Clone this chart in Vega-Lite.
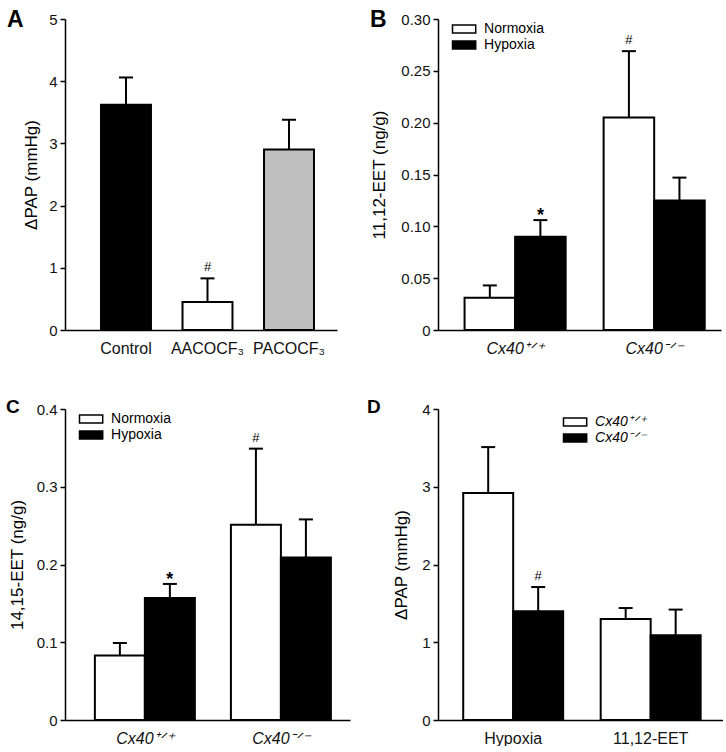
{
  "$schema": "https://vega.github.io/schema/vega-lite/v6.json",
  "padding": {"left": 6, "top": 9, "right": 0, "bottom": 0},
  "columns": 2,
  "bounds": "flush",
  "spacing": {"row": 79, "column": 88},
  "resolve": {"scale": {"fill": "independent", "xOffset": "independent"}, "legend": {"fill": "independent"}},
  "datasets": {
    "a": [
      {"x": "Control", "value": 3.62, "upper": 4.06, "sig": ""},
      {"x": "AACOCF₃", "value": 0.45, "upper": 0.83, "sig": "#"},
      {"x": "PACOCF₃", "value": 2.9, "upper": 3.38, "sig": ""}
    ],
    "b": [
      {"x": "Cx40⁺ᐟ⁺", "sub": "Normoxia", "value": 0.031, "upper": 0.043, "sig": ""},
      {"x": "Cx40⁺ᐟ⁺", "sub": "Hypoxia", "value": 0.09, "upper": 0.106, "sig": "*"},
      {"x": "Cx40⁻ᐟ⁻", "sub": "Normoxia", "value": 0.205, "upper": 0.269, "sig": "#"},
      {"x": "Cx40⁻ᐟ⁻", "sub": "Hypoxia", "value": 0.125, "upper": 0.147, "sig": ""}
    ],
    "c": [
      {"x": "Cx40⁺ᐟ⁺", "sub": "Normoxia", "value": 0.083, "upper": 0.099, "sig": ""},
      {"x": "Cx40⁺ᐟ⁺", "sub": "Hypoxia", "value": 0.157, "upper": 0.175, "sig": "*"},
      {"x": "Cx40⁻ᐟ⁻", "sub": "Normoxia", "value": 0.251, "upper": 0.349, "sig": "#"},
      {"x": "Cx40⁻ᐟ⁻", "sub": "Hypoxia", "value": 0.209, "upper": 0.258, "sig": ""}
    ],
    "d": [
      {"x": "Hypoxia", "sub": "Cx40⁺ᐟ⁺", "value": 2.92, "upper": 3.51, "sig": ""},
      {"x": "Hypoxia", "sub": "Cx40⁻ᐟ⁻", "value": 1.4, "upper": 1.71, "sig": "#"},
      {"x": "11,12-EET", "sub": "Cx40⁺ᐟ⁺", "value": 1.3, "upper": 1.44, "sig": ""},
      {"x": "11,12-EET", "sub": "Cx40⁻ᐟ⁻", "value": 1.09, "upper": 1.42, "sig": ""}
    ]
  },
  "concat": [
    {
      "width": 272, "height": 311,
      "title": {"text": "A", "fontSize": 23, "offset": -20, "dx": -58},
      "data": {"name": "a"},
      "encoding": {
        "x": {"field": "x", "type": "nominal", "sort": null, "title": null,
              "scale": {"paddingInner": 0.387, "paddingOuter": 0.362, "align": 0.61}}
      },
      "layer": [
        {"mark": {"type": "rule", "color": "black", "strokeWidth": 2},
         "encoding": {"y": {"field": "value", "type": "quantitative"}, "y2": {"field": "upper"}}},
        {"mark": {"type": "tick", "color": "black", "opacity": 1, "size": 14, "thickness": 2},
         "encoding": {"y": {"field": "upper", "type": "quantitative"}}},
        {"mark": {"type": "bar", "stroke": "black", "strokeWidth": 2, "opacity": 1},
         "encoding": {
           "y": {"field": "value", "type": "quantitative",
                 "scale": {"domain": [0, 5], "nice": false},
                 "axis": {"title": "ΔPAP (mmHg)", "values": [0, 1, 2, 3, 4, 5], "format": "d", "titlePadding": 8.5}},
           "fill": {"field": "x", "type": "nominal",
                    "scale": {"domain": ["Control", "AACOCF₃", "PACOCF₃"], "range": ["black", "white", "#bfbfbf"]},
                    "legend": null}
         }},
        {"transform": [{"filter": "datum.sig === '#'"}],
         "mark": {"type": "text", "fontSize": 13, "dy": -11, "color": "black"},
         "encoding": {"y": {"field": "upper", "type": "quantitative"}, "text": {"field": "sig"}}}
      ]
    },
    {
      "width": 283, "height": 311,
      "title": {"text": "B", "fontSize": 23, "offset": -20, "dx": -68},
      "data": {"name": "b"},
      "encoding": {
        "x": {"field": "x", "type": "nominal", "sort": null, "title": null,
              "scale": {"paddingInner": 0.273, "paddingOuter": 0.154, "align": 0.62},
              "axis": {"labelFontStyle": "italic"}},
        "xOffset": {"field": "sub", "type": "nominal", "sort": ["Normoxia", "Hypoxia"],
                    "scale": {"paddingInner": 0, "paddingOuter": 0}}
      },
      "layer": [
        {"mark": {"type": "rule", "color": "black", "strokeWidth": 2},
         "encoding": {"y": {"field": "value", "type": "quantitative"}, "y2": {"field": "upper"}}},
        {"mark": {"type": "tick", "color": "black", "opacity": 1, "size": 14, "thickness": 2},
         "encoding": {"y": {"field": "upper", "type": "quantitative"}}},
        {"mark": {"type": "bar", "stroke": "black", "strokeWidth": 2, "opacity": 1},
         "encoding": {
           "y": {"field": "value", "type": "quantitative",
                 "scale": {"domain": [0, 0.3], "nice": false},
                 "axis": {"title": "11,12-EET (ng/g)", "values": [0, 0.05, 0.1, 0.15, 0.2, 0.25, 0.3],
                          "labelExpr": "datum.value === 0 ? '0' : format(datum.value, '.2f')", "titlePadding": 12}},
           "fill": {"field": "sub", "type": "nominal",
                    "scale": {"domain": ["Normoxia", "Hypoxia"], "range": ["white", "black"]},
                    "legend": {"legendX": 14, "legendY": 3}}
         }},
        {"transform": [{"filter": "datum.sig === '#'"}],
         "mark": {"type": "text", "fontSize": 13, "dy": -11, "color": "black"},
         "encoding": {"y": {"field": "upper", "type": "quantitative"}, "text": {"field": "sig"}}},
        {"transform": [{"filter": "datum.sig === '*'"}],
         "mark": {"type": "text", "fontSize": 18, "fontWeight": "bold", "dy": -4, "color": "black"},
         "encoding": {"y": {"field": "upper", "type": "quantitative"}, "text": {"field": "sig"}}}
      ]
    },
    {
      "width": 285, "height": 311,
      "title": {"text": "C", "fontSize": 19, "offset": -15, "dx": -59},
      "data": {"name": "c"},
      "encoding": {
        "x": {"field": "x", "type": "nominal", "sort": null, "title": null,
              "scale": {"paddingInner": 0.265, "paddingOuter": 0.18, "align": 0.61},
              "axis": {"labelFontStyle": "italic"}},
        "xOffset": {"field": "sub", "type": "nominal", "sort": ["Normoxia", "Hypoxia"],
                    "scale": {"paddingInner": 0, "paddingOuter": 0}}
      },
      "layer": [
        {"mark": {"type": "rule", "color": "black", "strokeWidth": 2},
         "encoding": {"y": {"field": "value", "type": "quantitative"}, "y2": {"field": "upper"}}},
        {"mark": {"type": "tick", "color": "black", "opacity": 1, "size": 14, "thickness": 2},
         "encoding": {"y": {"field": "upper", "type": "quantitative"}}},
        {"mark": {"type": "bar", "stroke": "black", "strokeWidth": 2, "opacity": 1},
         "encoding": {
           "y": {"field": "value", "type": "quantitative",
                 "scale": {"domain": [0, 0.4], "nice": false},
                 "axis": {"title": "14,15-EET (ng/g)", "values": [0, 0.1, 0.2, 0.3, 0.4],
                          "labelExpr": "datum.value === 0 ? '0' : format(datum.value, '.1f')", "titlePadding": 10}},
           "fill": {"field": "sub", "type": "nominal",
                    "scale": {"domain": ["Normoxia", "Hypoxia"], "range": ["white", "black"]},
                    "legend": {"legendX": 14, "legendY": 3}}
         }},
        {"transform": [{"filter": "datum.sig === '#'"}],
         "mark": {"type": "text", "fontSize": 13, "dy": -11, "color": "black"},
         "encoding": {"y": {"field": "upper", "type": "quantitative"}, "text": {"field": "sig"}}},
        {"transform": [{"filter": "datum.sig === '*'"}],
         "mark": {"type": "text", "fontSize": 18, "fontWeight": "bold", "dy": -4, "color": "black"},
         "encoding": {"y": {"field": "upper", "type": "quantitative"}, "text": {"field": "sig"}}}
      ]
    },
    {
      "width": 285, "height": 311,
      "title": {"text": "D", "fontSize": 19, "offset": -15, "dx": -71},
      "data": {"name": "d"},
      "encoding": {
        "x": {"field": "x", "type": "nominal", "sort": null, "title": null,
              "scale": {"paddingInner": 0.273, "paddingOuter": 0.173, "align": 0.53}},
        "xOffset": {"field": "sub", "type": "nominal", "sort": ["Cx40⁺ᐟ⁺", "Cx40⁻ᐟ⁻"],
                    "scale": {"paddingInner": 0, "paddingOuter": 0}}
      },
      "layer": [
        {"mark": {"type": "rule", "color": "black", "strokeWidth": 2},
         "encoding": {"y": {"field": "value", "type": "quantitative"}, "y2": {"field": "upper"}}},
        {"mark": {"type": "tick", "color": "black", "opacity": 1, "size": 14, "thickness": 2},
         "encoding": {"y": {"field": "upper", "type": "quantitative"}}},
        {"mark": {"type": "bar", "stroke": "black", "strokeWidth": 2, "opacity": 1},
         "encoding": {
           "y": {"field": "value", "type": "quantitative",
                 "scale": {"domain": [0, 4], "nice": false},
                 "axis": {"title": "ΔPAP (mmHg)", "values": [0, 1, 2, 3, 4], "format": "d", "titlePadding": 11.5}},
           "fill": {"field": "sub", "type": "nominal",
                    "scale": {"domain": ["Cx40⁺ᐟ⁺", "Cx40⁻ᐟ⁻"], "range": ["white", "black"]},
                    "legend": {"legendX": 125, "legendY": 6, "labelFontStyle": "italic"}}
         }},
        {"transform": [{"filter": "datum.sig === '#'"}],
         "mark": {"type": "text", "fontSize": 13, "dy": -11, "color": "black"},
         "encoding": {"y": {"field": "upper", "type": "quantitative"}, "text": {"field": "sig"}}}
      ]
    }
  ],
  "config": {
    "font": "Liberation Sans",
    "view": {"stroke": null},
    "axis": {
      "domainColor": "black", "domainWidth": 1.5, "tickColor": "black", "tickWidth": 1.5,
      "labelColor": "#111", "titleColor": "black", "grid": false,
      "labelFont": "Liberation Sans", "titleFont": "Liberation Sans", "titleFontWeight": "normal"
    },
    "axisY": {"tickSize": 5, "labelPadding": 3, "labelFontSize": 15, "titleFontSize": 17},
    "axisX": {"ticks": false, "tickSize": 0, "labelPadding": 10, "labelFontSize": 16, "labelAngle": 0},
    "legend": {
      "orient": "none", "title": null, "padding": 0,
      "symbolType": "M-2.9,-1H2.9V1H-2.9Z", "symbolSize": 64,
      "symbolStrokeColor": "black", "symbolStrokeWidth": 1.5, "symbolOpacity": 1,
      "symbolOffset": 5.1, "labelOffset": 13, "rowPadding": 2,
      "labelFontSize": 14, "labelFont": "Liberation Sans", "labelColor": "black"
    },
    "title": {
      "anchor": "start", "frame": "group", "orient": "top", "fontWeight": "bold",
      "baseline": "alphabetic", "color": "black", "font": "Liberation Sans"
    }
  }
}
